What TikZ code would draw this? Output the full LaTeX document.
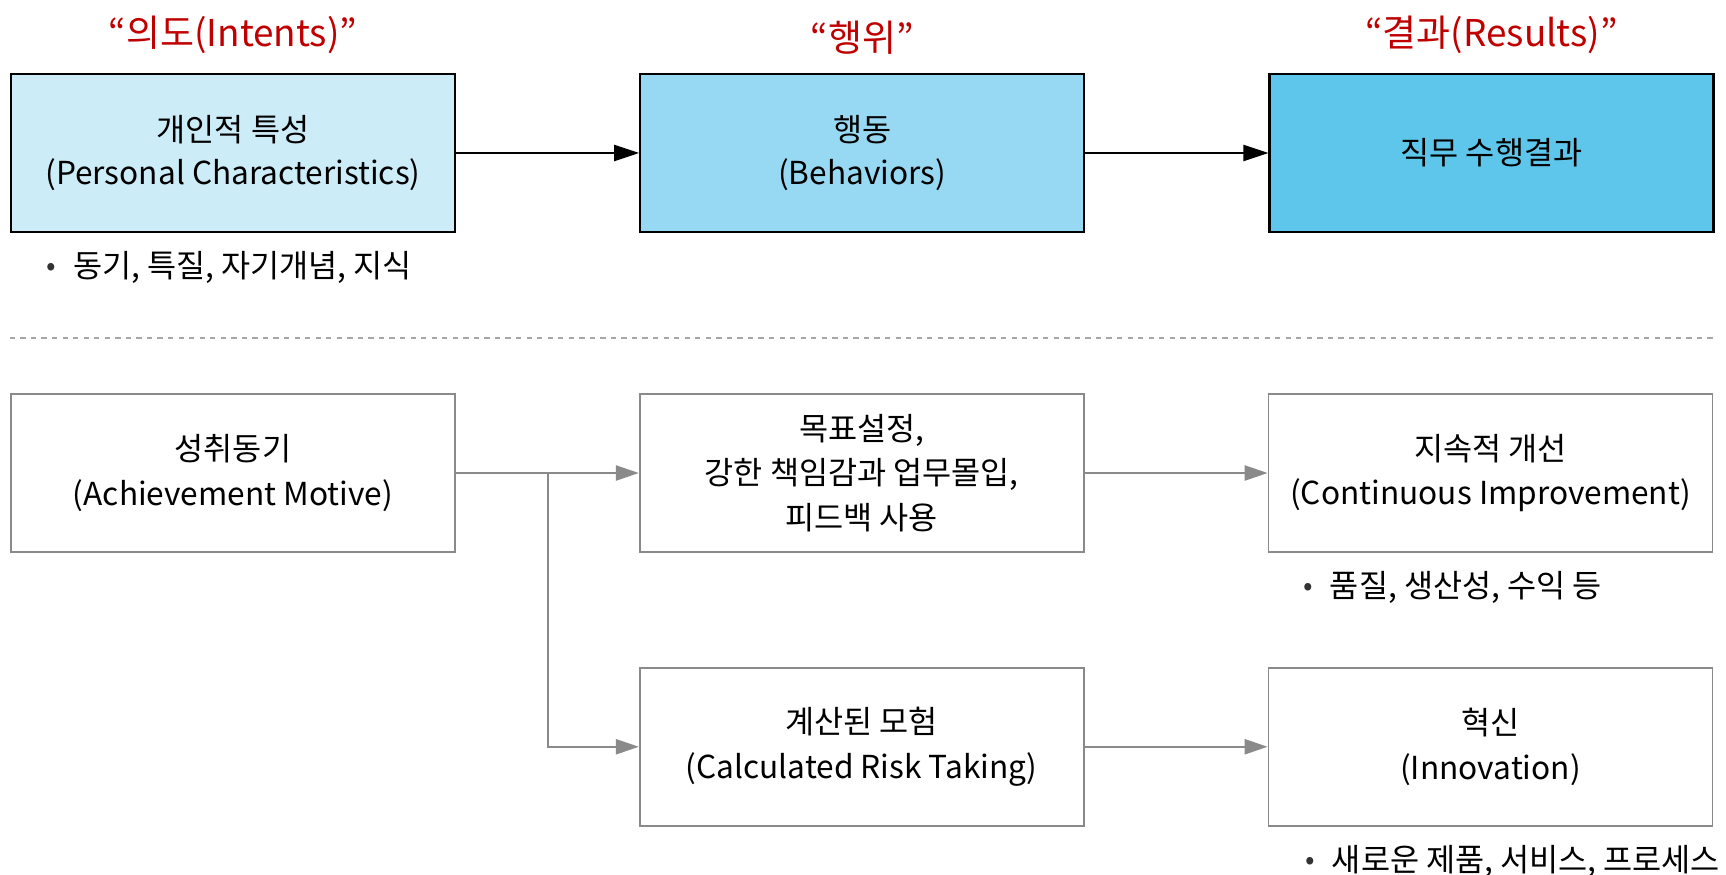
\documentclass[tikz,border=0pt]{standalone}
\usepackage{fontspec}
\setmainfont{Noto Sans CJK KR}
\usepackage{tikz}
\usetikzlibrary{arrows.meta,positioning}

\definecolor{titlered}{HTML}{C00000}
\definecolor{blueA}{HTML}{CCECF8}
\definecolor{blueB}{HTML}{97D9F2}
\definecolor{blueC}{HTML}{5EC6EB}
\definecolor{boxgray}{HTML}{8A8A8A}

\newcommand{\bul}{\raisebox{0.06em}{\fontsize{16}{16}\selectfont\color{black!80}•}\hspace{0.55em}}

\begin{document}
\begin{tikzpicture}[
    node distance=3.2cm and 3.66cm,
    topbox/.style={rectangle, draw=black, line width=1.3pt, align=center, minimum width=8.88cm, minimum height=3.16cm, font=\fontsize{18}{25}\selectfont},
    plainbox/.style={rectangle, draw=boxgray, line width=1pt, fill=white, align=center, minimum width=8.88cm, minimum height=3.16cm, font=\fontsize{18}{25.5}\selectfont},
    title/.style={text=titlered, font=\fontsize{21}{25}\selectfont},
    note/.style={anchor=north west, inner sep=0pt, font=\fontsize{18}{25}\selectfont},
    arrow/.style={-{Triangle[length=0.5cm, width=0.32cm]}, line width=1.3pt},
    flow/.style={-{Triangle[length=0.46cm, width=0.3cm]}, line width=1.3pt, draw=boxgray},
    sep/.style={dashed, draw=gray!70, line width=0.8pt}
]
\useasboundingbox (0,0) rectangle (34.52,-17.5);

% upper row
\node[topbox, fill=blueA] (pc) at (4.66,-3.06) {개인적 특성\\(Personal Characteristics)};
\node[topbox, fill=blueB, right=of pc] (bh) {행동\\(Behaviors)};
\node[topbox, fill=blueC, right=of bh] (res) {직무 수행결과};

\node[title, above=0.25cm of pc] (intent) {“의도(Intents)”};
\node[title, above=0.25cm of bh] (act) {“행위”};
\node[title, above=0.25cm of res] (result) {“결과(Results)”};

\node[note, below right=0.36cm and 0.72cm of pc.south west] (pcnote) {\bul 동기, 특질, 자기개념, 지식};

\draw[arrow] (pc) -- (bh);
\draw[arrow] (bh) -- (res);

% separator
\coordinate (sepy) at (0,-6.76);
\draw[sep] (pc.west |- sepy) -- (res.east |- sepy);

% lower rows
\node[plainbox, below=of pc] (am) {성취동기\\(Achievement Motive)};
\node[plainbox, right=of am] (gs) {목표설정,\\강한 책임감과 업무몰입,\\피드백 사용};
\node[plainbox, right=of gs] (ci) {지속적 개선\\(Continuous Improvement)};
\node[plainbox, below=2.28cm of gs] (rt) {계산된 모험\\(Calculated Risk Taking)};
\node[plainbox, right=of rt] (inno) {혁신\\(Innovation)};

\node[note, below right=0.36cm and 0.7cm of ci.south west] (cinote) {\bul 품질, 생산성, 수익 등};
\node[note, below right=0.36cm and 0.74cm of inno.south west] (innonote) {\bul 새로운 제품, 서비스, 프로세스};

\draw[flow] (am) -- (gs);
\draw[flow] (am.east) -- ++(1.84,0) |- (rt);
\draw[flow] (gs) -- (ci);
\draw[flow] (rt) -- (inno);
\end{tikzpicture}
\end{document}
